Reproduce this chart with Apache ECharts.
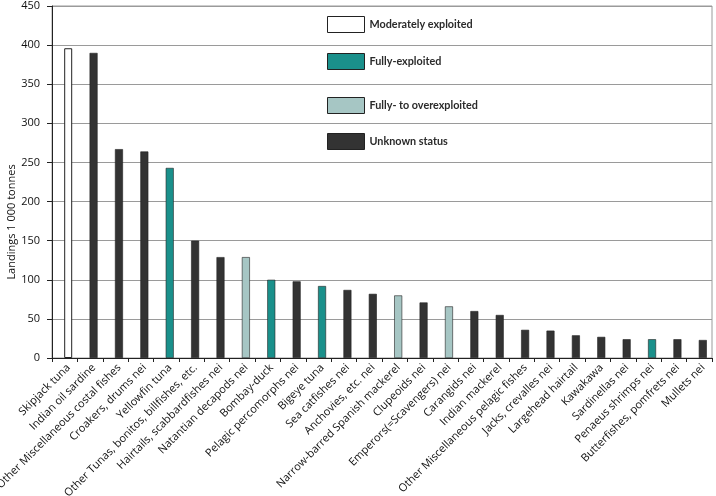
<!DOCTYPE html>
<html>
<head>
<meta charset="utf-8">
<script src="https://cdn.jsdelivr.net/npm/echarts@6/dist/echarts.min.js"></script>
<style>html,body{margin:0;padding:0;background:#fff}#c{width:716px;height:496px}</style>
</head>
<body>
<div id="c"></div>
<script>
const categories = ["Skipjack tuna","Indian oil sardine","Other Miscellaneous costal fishes","Croakers, drums nei","Yellowfin tuna","Other Tunas, bonitos, billfishes, etc.","Hairtails, scabbardfishes nei","Natantian decapods nei","Bombay-duck","Pelagic percomorphs nei","Bigeye tuna","Sea catfishes nei","Anchovies, etc. nei","Narrow-barred Spanish mackerel","Clupeoids nei","Emperors(=Scavengers) nei","Carangids nei","Indian mackerel","Other Miscellaneous pelagic fishes","Jacks, crevalles nei","Largehead hairtail","Kawakawa","Sardinellas nei","Penaeus shrimps nei","Butterfishes, pomfrets nei","Mullets nei"];
const landings = [396,390,267,264,243,150,129,129,100,98,92,87,82,80,71,66,60,55,36,35,29,27,24,24,24,23];
// status index: 0 moderately, 1 fully, 2 fully-to over, 3 unknown
const status = [0,3,3,3,1,3,3,2,1,3,1,3,3,2,3,2,3,3,3,3,3,3,3,1,3,3];
const statusNames = ["Moderately exploited","Fully-exploited","Fully- to overexploited","Unknown status"];
const statusColors = ["#ffffff","#1a908b","#a6c6c4","#333333"];
const legendTops = [16,53,97,133];
const yTicks = [0,50,100,150,200,250,300,350,400,450];

const font = "'Open Sans', 'Noto Sans', sans-serif";
// invisible spacer column so the bars sit slightly right of each category centre, as in the reference
const series = [{
  name: 'spacer', type: 'bar', stack: 'spacer', barWidth: 1, barGap: '600%',
  data: categories.map(() => null), silent: true
}].concat(statusNames.map((n, s) => ({
  name: n,
  type: 'bar',
  stack: 'all',
  barWidth: 8,
  barGap: '600%',
  data: landings.map((v, i) => status[i] === s ? v : null),
  itemStyle: { color: statusColors[s], borderColor: '#222', borderWidth: s === 0 ? 1 : 0.6 }
})));

const legends = statusNames.map((n, s) => ({
  data: [n],
  left: 327,
  top: legendTops[s],
  padding: 0,
  orient: 'vertical',
  icon: 'rect',
  itemWidth: 37,
  itemHeight: 16,
  itemGap: 0,
  selectedMode: false,
  textStyle: { fontFamily: "Lato, 'Open Sans', sans-serif", fontSize: 10.8, color: '#2a2a2a', fontWeight: 'bold' },
  itemStyle: { borderColor: '#222', borderWidth: 1 }
}));

const chart = echarts.init(document.getElementById('c'));
chart.setOption({
  animation: false,
  backgroundColor: '#fff',
  grid: { left: 52, right: 4, top: 6, bottom: 138, outerBoundsMode: 'none', containLabel: false, show: true, borderColor: '#9a9a9a', borderWidth: 1 },
  legend: legends,
  xAxis: {
    type: 'category',
    data: categories,
    axisLine: { lineStyle: { color: '#222', width: 1 } },
    axisTick: { show: true, length: 4, lineStyle: { color: '#222' } },
    axisLabel: { interval: 0, rotate: 45, fontFamily: font, fontSize: 11, color: '#111', margin: 4, align: 'right', verticalAlign: 'top' }
  },
  yAxis: {
    type: 'value',
    min: yTicks[0],
    max: yTicks[yTicks.length - 1],
    interval: 50,
    axisLine: { show: true, lineStyle: { color: '#222', width: 1 } },
    axisTick: { show: true, length: 5, lineStyle: { color: '#222' } },
    axisLabel: { fontFamily: font, fontSize: 11, color: '#111', margin: 12 },
    splitLine: { lineStyle: { color: '#9a9a9a', width: 1 } }
  },
  graphic: [{
    type: 'text',
    x: 12,
    y: 222,
    rotation: Math.PI / 2,
    style: { text: 'Landings 1 000 tonnes', fontFamily: font, fontSize: 11, fill: '#111', align: 'center', verticalAlign: 'middle' }
  }],
  series: series
});
</script>
</body>
</html>
